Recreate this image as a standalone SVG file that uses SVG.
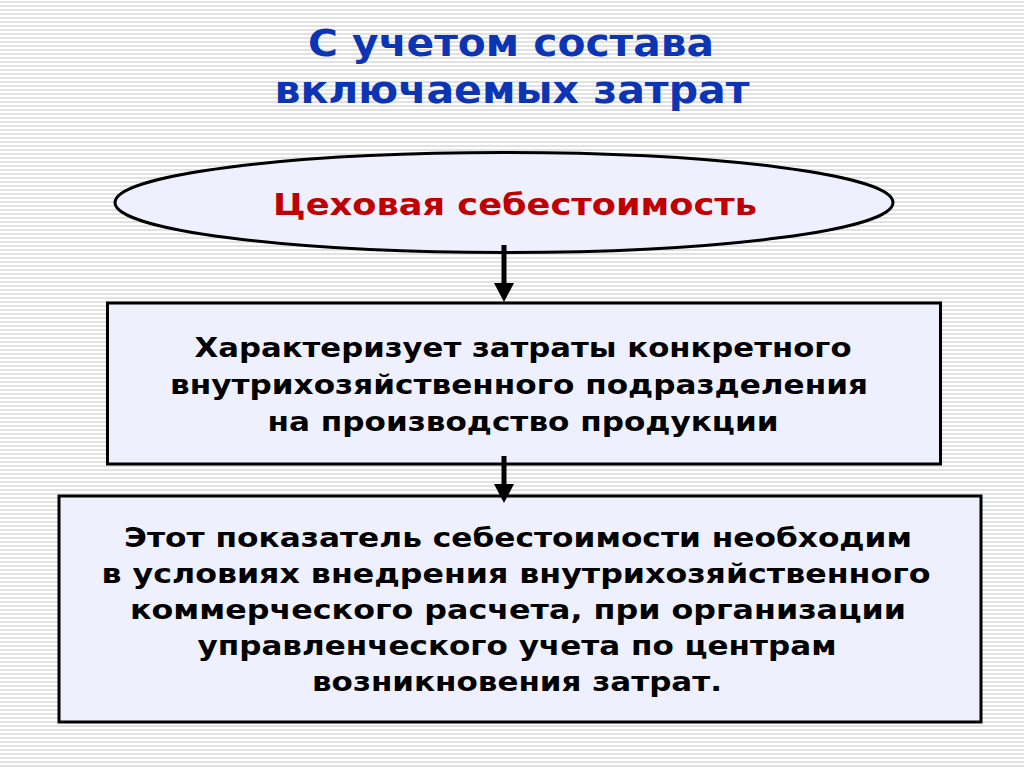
<svg xmlns="http://www.w3.org/2000/svg" width="1024" height="767" viewBox="0 0 1024 767">
<defs>
<pattern id="stripes" x="0" y="0" width="8" height="4" patternUnits="userSpaceOnUse">
<rect x="0" y="0" width="8" height="4" fill="#ffffff"/>
<rect x="0" y="1" width="8" height="2" fill="#e2e2e2"/>
</pattern>
<style>
.box{fill:#eef0fd;stroke:#000;stroke-width:3}
.title{font-family:"DejaVu Sans",Verdana,sans-serif;font-weight:bold;font-size:37px;fill:#0c35b5;text-anchor:middle}
.red{font-family:"DejaVu Sans",Verdana,sans-serif;font-weight:bold;font-size:30px;fill:#c00000;text-anchor:middle}
.txt{font-family:"DejaVu Sans",Verdana,sans-serif;font-weight:bold;font-size:27px;fill:#000;text-anchor:middle}
.conn{stroke:#000;stroke-width:5;fill:none}
</style>
</defs>
<rect x="0" y="0" width="1024" height="767" fill="url(#stripes)"/>
<g id="title">
<text class="title" x="511" y="56" textLength="406" lengthAdjust="spacingAndGlyphs">С учетом состава</text>
<text class="title" x="512" y="103" textLength="475" lengthAdjust="spacingAndGlyphs">включаемых затрат</text>
</g>
<g id="node-ellipse">
<ellipse class="box" cx="504" cy="202.5" rx="389" ry="50"/>
<text class="red" x="515" y="215" textLength="484" lengthAdjust="spacingAndGlyphs">Цеховая себестоимость</text>
</g>
<g id="node-box1">
<rect class="box" x="107.5" y="303" width="833" height="161"/>
<text class="txt" x="523" y="357" textLength="657" lengthAdjust="spacingAndGlyphs">Характеризует затраты конкретного</text>
<text class="txt" x="519" y="394" textLength="698" lengthAdjust="spacingAndGlyphs">внутрихозяйственного подразделения</text>
<text class="txt" x="523" y="431" textLength="511" lengthAdjust="spacingAndGlyphs">на производство продукции</text>
</g>
<g id="node-box2">
<rect class="box" x="59" y="496" width="922" height="226"/>
<text class="txt" x="518" y="547" textLength="788" lengthAdjust="spacingAndGlyphs">Этот показатель себестоимости необходим</text>
<text class="txt" x="516" y="583" textLength="829" lengthAdjust="spacingAndGlyphs">в условиях внедрения внутрихозяйственного</text>
<text class="txt" x="518" y="619" textLength="776" lengthAdjust="spacingAndGlyphs">коммерческого расчета, при организации</text>
<text class="txt" x="517" y="655" textLength="639" lengthAdjust="spacingAndGlyphs">управленческого учета по центрам</text>
<text class="txt" x="517" y="691" textLength="410" lengthAdjust="spacingAndGlyphs">возникновения затрат.</text>
</g>
<g id="connectors">
<line class="conn" x1="504" y1="245" x2="504" y2="285"/>
<path d="M494,283 L514,283 L504,302 Z" fill="#000"/>
<line class="conn" x1="504" y1="456" x2="504" y2="486"/>
<path d="M494,484 L514,484 L504,503 Z" fill="#000"/>
</g>
</svg>
